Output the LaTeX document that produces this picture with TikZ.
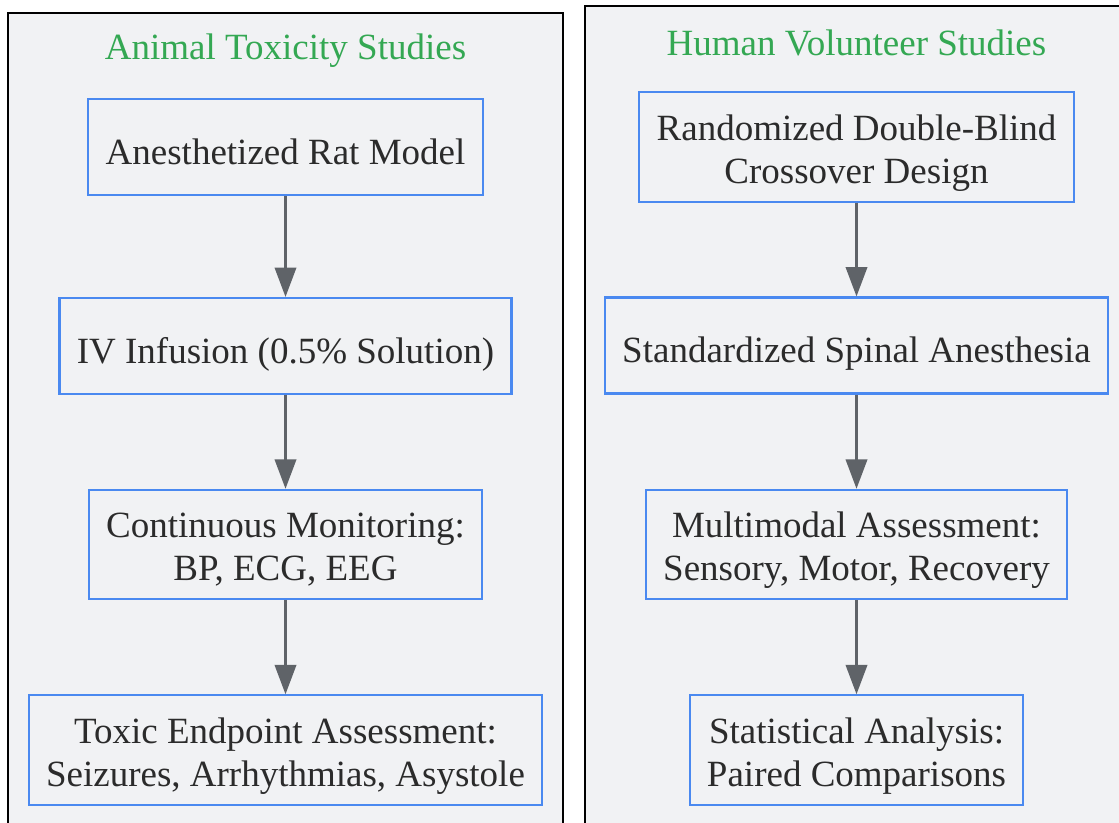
\documentclass[tikz,border=0pt]{standalone}
\usepackage{fontspec}
\setmainfont{Liberation Serif}
\usetikzlibrary{arrows.meta}
\definecolor{panelbg}{HTML}{F1F2F4}
\definecolor{boxblue}{HTML}{4A89F0}
\definecolor{titlegreen}{HTML}{34A853}
\definecolor{flowgrey}{HTML}{5F6368}
\definecolor{inktext}{HTML}{2B2B2B}

\begin{document}
\begin{tikzpicture}[x=0.75pt, y=-0.75pt,
  panel/.style={draw=black, line width=1.8pt, fill=panelbg},
  heading/.style={text=titlegreen, font=\fontsize{27.75pt}{32.25pt}\selectfont},
  stage/.style={draw=boxblue, line width=1.6pt, fill=panelbg, text=inktext,
    align=center, inner xsep=13pt, inner ysep=3pt, minimum height=72pt,
    text height=26pt, text depth=0pt,
    font=\fontsize{27.75pt}{32.25pt}\selectfont},
  stagetwo/.style={stage, minimum height=82pt, text height=60pt, text depth=6pt},
  flow/.style={draw=flowgrey, line width=1.9pt, -{Triangle[length=22pt, width=16pt]}}]
\clip (0,0) rectangle (1119,822);
\fill[white] (0,0) rectangle (1119,822);
% the two study panels
\draw[panel] (8,13) rectangle (563,840);
\draw[panel] (585,6) rectangle (1130,840);
\node[heading] (animal) at (285.5,51) {Animal Toxicity Studies};
\node[heading] (human) at (856.5,43) {Human Volunteer Studies};
% animal side
\node[stage] (rat) at (285.5,147) {Anesthetized Rat Model};
\node[stage] (infusion) at (285.5,346) {IV Infusion (0.5\% Solution)};
\node[stagetwo] (monitor) at (285.5,544.5) {Continuous Monitoring:\\BP, ECG, EEG};
\node[stagetwo] (endpoint) at (285.5,750) {Toxic Endpoint Assessment:\\Seizures, Arrhythmias, Asystole};
% human side
\node[stagetwo] (crossover) at (856.5,147) {Randomized Double-Blind\\Crossover Design};
\node[stage] (spinal) at (856.5,345.5) {Standardized Spinal Anesthesia};
\node[stagetwo] (assess) at (856.5,544.5) {Multimodal Assessment:\\Sensory, Motor, Recovery};
\node[stagetwo] (stats) at (856.5,750) {Statistical Analysis:\\Paired Comparisons};
\foreach \a/\b in {rat/infusion, infusion/monitor, monitor/endpoint,
                   crossover/spinal, spinal/assess, assess/stats}
  \draw[flow] (\a) -- (\b);
\end{tikzpicture}
\end{document}
